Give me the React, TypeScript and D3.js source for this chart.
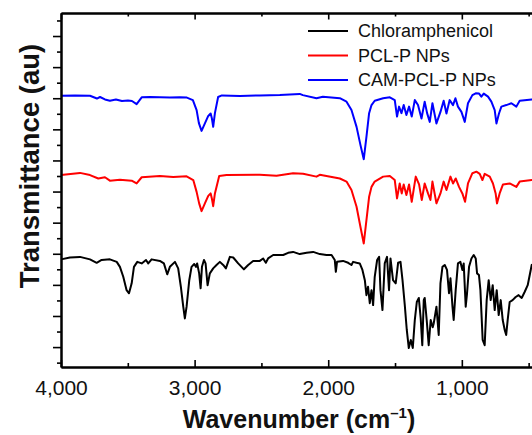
import React, { useEffect, useRef } from "react";
import * as d3 from "d3";

const seriesNames = ["Chloramphenicol", "PCL-P NPs", "CAM-PCL-P NPs"];
const seriesColors = ["#000000", "#ff0000", "#0000ff"];

const xMajorTicks = [4000, 3000, 2000, 1000];
const xMinorTicks = [3500, 2500, 1500, 500];
const yMajorTicks = [0, 10, 20, 30, 40, 50, 60, 70, 80, 90, 100];
const yMinorTicks = [-5, 5, 15, 25, 35, 45, 55, 65, 75, 85, 95, 105];

// [wavenumber cm-1, transmittance (au, offset for stacking)]
const chloramphenicol: [number, number][] = [
  [4000, 28.2], [3933, 28.8], [3858, 29.0], [3783, 28.2], [3733, 27.1], [3696, 28.0],
  [3634, 28.2], [3583, 27.4], [3559, 25.8], [3534, 22.6], [3509, 18.3], [3491, 17.3],
  [3471, 20.5], [3454, 25.8], [3429, 27.4], [3396, 26.9], [3364, 28.0], [3347, 26.9],
  [3322, 28.2], [3260, 27.7], [3230, 26.9], [3205, 23.4], [3185, 25.8], [3147, 27.4],
  [3123, 25.3], [3103, 19.4], [3085, 13.0], [3073, 9.2], [3060, 13.0], [3040, 21.5],
  [3023, 25.8], [3003, 26.7], [2990, 25.8], [2981, 26.9], [2966, 23.7], [2955, 18.9],
  [2945, 25.8], [2930, 28.0], [2918, 26.9], [2903, 19.9], [2886, 23.7], [2861, 25.3],
  [2836, 26.4], [2811, 27.4], [2786, 26.4], [2766, 25.3], [2736, 29.0], [2711, 28.8],
  [2674, 26.9], [2631, 25.0], [2599, 26.4], [2562, 27.7], [2512, 27.7], [2487, 28.5],
  [2467, 27.1], [2450, 28.5], [2412, 29.6], [2337, 29.6], [2300, 30.3], [2263, 30.6],
  [2213, 29.9], [2162, 30.3], [2113, 30.6], [2063, 29.9], [2013, 29.6], [1975, 29.6],
  [1951, 28.0], [1943, 24.2], [1934, 27.4], [1889, 27.7], [1851, 27.1], [1826, 26.4],
  [1814, 27.4], [1788, 27.1], [1764, 26.9], [1744, 24.8], [1726, 21.5], [1714, 16.7],
  [1702, 19.4], [1689, 14.1], [1676, 18.3], [1664, 13.5], [1652, 22.6], [1634, 28.0],
  [1619, 29.0], [1609, 18.3], [1594, 11.9], [1577, 26.9], [1560, 29.0], [1545, 18.3],
  [1534, 28.5], [1515, 21.5], [1495, 20.5], [1477, 27.1], [1459, 27.4], [1444, 21.5],
  [1427, 13.5], [1412, 5.5], [1397, -0.3], [1382, 2.3], [1367, -0.3], [1352, 8.7],
  [1337, 14.5], [1322, 15.8], [1308, 9.3], [1296, 0.6], [1285, 15.1], [1278, 15.8],
  [1263, 8.7], [1248, 0.6], [1233, 8.7], [1218, 6.4], [1210, 7.7], [1190, 13.0],
  [1173, 3.9], [1160, 20.5], [1145, 25.8], [1128, 26.4], [1111, 24.8], [1096, 17.3],
  [1085, 22.1], [1070, 13.0], [1061, 8.7], [1046, 18.3], [1029, 26.9], [1011, 27.4],
  [996, 24.8], [986, 26.9], [971, 13.0], [961, 17.3], [946, 25.8], [928, 28.5],
  [911, 29.6], [896, 28.5], [886, 23.7], [872, 23.2], [861, 18.3], [844, 2.3],
  [829, 0.6], [814, 15.1], [799, 21.5], [784, 15.1], [769, 19.9], [754, 11.9],
  [739, 18.3], [724, 10.3], [709, 15.1], [694, 8.7], [679, 5.5], [668, 3.9],
  [657, 8.7], [642, 14.5], [620, 15.1], [597, 16.1], [575, 16.7], [552, 15.8],
  [530, 17.7], [507, 19.9], [477, 26.4], [400, 28.0],
];

const pclP: [number, number][] = [
  [4000, 55.3], [3858, 56.0], [3783, 55.3], [3721, 54.2], [3671, 54.6], [3634, 53.5],
  [3559, 53.8], [3471, 53.5], [3434, 52.6], [3396, 54.6], [3260, 55.0], [3160, 54.7],
  [3060, 54.9], [3010, 53.7], [2985, 49.9], [2966, 46.2], [2948, 43.7], [2923, 46.2],
  [2898, 48.6], [2880, 49.4], [2871, 47.8], [2861, 45.3], [2848, 49.4], [2816, 55.0],
  [2761, 55.3], [2512, 55.4], [2387, 55.1], [2263, 55.9], [2188, 55.7], [2088, 54.8],
  [2063, 55.4], [1913, 54.2], [1863, 53.2], [1826, 50.5], [1788, 45.1], [1759, 38.7],
  [1734, 33.3], [1714, 40.8], [1694, 48.3], [1676, 51.5], [1652, 53.2], [1589, 54.8],
  [1539, 55.0], [1502, 53.7], [1485, 47.8], [1465, 52.6], [1450, 49.4], [1435, 52.3],
  [1415, 48.9], [1395, 52.3], [1375, 46.7], [1345, 54.8], [1320, 52.3], [1300, 47.3],
  [1278, 52.6], [1253, 49.4], [1235, 47.3], [1220, 53.2], [1190, 46.2], [1160, 49.4],
  [1136, 53.2], [1115, 50.5], [1085, 54.8], [1066, 52.6], [1046, 54.2], [1021, 51.5],
  [996, 49.4], [976, 46.7], [954, 52.6], [921, 55.9], [891, 56.4], [866, 55.7],
  [846, 53.7], [829, 55.7], [791, 54.8], [767, 52.6], [747, 49.4], [737, 46.2],
  [717, 49.4], [692, 52.3], [642, 52.6], [592, 51.5], [567, 53.2], [477, 53.7],
  [400, 54.0],
];

const camPclP: [number, number][] = [
  [4000, 80.8], [3895, 80.9], [3783, 80.8], [3731, 79.9], [3708, 80.4], [3671, 79.6],
  [3634, 79.2], [3589, 79.6], [3544, 79.1], [3499, 79.3], [3469, 79.1], [3434, 78.1],
  [3396, 80.3], [3334, 80.4], [3260, 80.3], [3185, 80.2], [3110, 80.3], [3058, 80.2],
  [3013, 79.4], [2985, 76.2], [2968, 72.0], [2948, 69.5], [2923, 71.9], [2898, 74.3],
  [2880, 75.1], [2871, 73.6], [2861, 70.8], [2848, 75.2], [2824, 80.4], [2796, 80.9],
  [2661, 80.7], [2512, 80.9], [2362, 81.0], [2213, 81.4], [2190, 81.0], [2088, 80.0],
  [2040, 80.5], [1913, 80.0], [1863, 78.9], [1826, 76.2], [1788, 70.8], [1759, 65.0],
  [1734, 60.4], [1714, 67.6], [1694, 75.2], [1676, 77.8], [1652, 79.2], [1589, 80.0],
  [1539, 80.3], [1502, 79.4], [1485, 74.1], [1470, 77.3], [1452, 75.2], [1435, 77.8],
  [1415, 74.6], [1395, 77.3], [1375, 74.1], [1352, 79.4], [1328, 77.8], [1302, 73.5],
  [1278, 78.9], [1260, 75.2], [1240, 72.4], [1220, 78.4], [1190, 71.9], [1160, 75.6],
  [1136, 79.2], [1115, 75.1], [1091, 79.4], [1066, 77.8], [1048, 80.0], [1029, 77.3],
  [1003, 75.6], [978, 72.4], [954, 78.4], [921, 81.0], [896, 81.6], [871, 81.5],
  [854, 80.5], [836, 81.5], [804, 80.5], [779, 78.9], [754, 76.2], [741, 71.9],
  [722, 75.1], [704, 77.3], [667, 77.8], [629, 78.4], [592, 77.3], [567, 79.2],
  [477, 79.6], [400, 79.8],
];

const allSeries = [chloramphenicol, pclP, camPclP];

const W = 532;
const H = 435;
const FONT = "'Liberation Sans', Arial, Helvetica, sans-serif";

export default function App() {
  const ref = useRef<SVGSVGElement>(null);

  useEffect(() => {
    const svg = d3.select(ref.current);
    svg.selectAll("*").remove();

    const left = 61;
    const top = 13;
    const bottom = 367;

    const x = d3.scaleLinear().domain([4000, 400]).range([left, 542]);
    const y = d3.scaleLinear().domain([-6.4, 107.4]).range([bottom, top]);

    // spectra
    const line = d3
      .line<[number, number]>()
      .x(d => x(d[0]))
      .y(d => y(d[1]));

    allSeries.forEach((s, i) => {
      svg
        .append("path")
        .datum(s)
        .attr("fill", "none")
        .attr("stroke", seriesColors[i])
        .attr("stroke-width", 2)
        .attr("stroke-linejoin", "round")
        .attr("d", line);
    });

    const styleAxis = (g: any) => {
      g.select(".domain").attr("stroke-width", 2).attr("stroke", "#000");
      g.selectAll(".tick line").attr("stroke-width", 1.6).attr("stroke", "#000");
    };

    // left axis, ticks outward
    svg
      .append("g")
      .attr("transform", `translate(${left},0)`)
      .call(d3.axisLeft(y).tickValues(yMinorTicks).tickSize(4).tickSizeOuter(0).tickFormat(() => ""))
      .call(styleAxis);
    svg
      .append("g")
      .attr("transform", `translate(${left},0)`)
      .call(d3.axisLeft(y).tickValues(yMajorTicks).tickSize(8).tickSizeOuter(0).tickFormat(() => ""))
      .call(styleAxis);

    // top axis, ticks inward
    svg
      .append("g")
      .attr("transform", `translate(0,${top})`)
      .call(d3.axisTop(x).tickValues(xMinorTicks).tickSize(-3.5).tickSizeOuter(0).tickFormat(() => ""))
      .call(styleAxis);
    svg
      .append("g")
      .attr("transform", `translate(0,${top})`)
      .call(d3.axisTop(x).tickValues(xMajorTicks).tickSize(-6.5).tickSizeOuter(0).tickFormat(() => ""))
      .call(styleAxis);

    // bottom axis, ticks inward with labels
    svg
      .append("g")
      .attr("transform", `translate(0,${bottom})`)
      .call(d3.axisBottom(x).tickValues(xMinorTicks).tickSize(-4).tickSizeOuter(0).tickFormat(() => ""))
      .call(styleAxis);
    const xAxis = svg
      .append("g")
      .attr("transform", `translate(0,${bottom})`)
      .call(
        d3
          .axisBottom(x)
          .tickValues(xMajorTicks)
          .tickSize(-7)
          .tickSizeOuter(0)
          .tickPadding(13)
          .tickFormat(d3.format(","))
      )
      .call(styleAxis);
    xAxis
      .selectAll("text")
      .attr("font-family", FONT)
      .attr("font-size", 21)
      .attr("fill", "#111");

    // axis titles
    const xTitle = svg
      .append("text")
      .attr("x", 299)
      .attr("y", 428)
      .attr("text-anchor", "middle")
      .attr("font-family", FONT)
      .attr("font-weight", "bold")
      .attr("font-size", 25)
      .attr("fill", "#111");
    xTitle.append("tspan").text("Wavenumber (cm");
    xTitle.append("tspan").attr("font-size", 15).attr("dy", -10).text("\u20131");
    xTitle.append("tspan").attr("dy", 10).text(")");

    svg
      .append("text")
      .attr("transform", "translate(39,166) rotate(-90)")
      .attr("text-anchor", "middle")
      .attr("font-family", FONT)
      .attr("font-weight", "bold")
      .attr("font-size", 27.5)
      .attr("fill", "#111")
      .text("Transmittance (au)");

    // legend
    const legend = svg.append("g");
    seriesNames.forEach((name, i) => {
      const ly = 31 + i * 24.5;
      legend
        .append("line")
        .attr("x1", 308)
        .attr("x2", 348)
        .attr("y1", ly)
        .attr("y2", ly)
        .attr("stroke", seriesColors[i])
        .attr("stroke-width", 2.2);
      legend
        .append("text")
        .attr("x", 358)
        .attr("y", ly)
        .attr("dy", "0.35em")
        .attr("font-family", FONT)
        .attr("font-size", 18)
        .attr("fill", "#111")
        .text(name);
    });
  }, []);

  return (
    <svg
      ref={ref}
      width={W}
      height={H}
      style={{ position: "absolute", left: 0, top: 0, background: "#fff" }}
    />
  );
}
